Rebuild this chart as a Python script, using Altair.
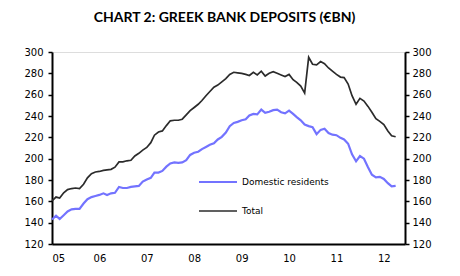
import altair as alt
import pandas as pd

# ---- data (monthly, Jan 2005 – Apr 2012), € bn ----
months = pd.date_range("2005-01-01", periods=88, freq="MS").strftime("%Y-%m-%d").tolist()

total = [
    160.5, 164, 163, 168, 171, 172, 172.5, 172, 176, 182, 186, 187.5,
    188, 189, 189.5, 190, 192, 197, 197, 198, 198.5, 202.5, 205, 208,
    210.5, 215, 222, 225, 226, 231, 235.5, 236, 236, 237, 241, 245,
    248, 251, 254.5, 259, 263, 267, 269, 272, 275, 279, 281, 280.5,
    280, 279, 278, 281, 278.5, 282, 277.5, 280, 281.5, 280, 278.5, 277,
    279, 274, 271.5, 268, 261.5, 295, 288.5, 288, 291, 289, 285, 282,
    279, 276.5, 276, 270, 259, 251, 256.5, 254, 249, 243.5, 237.5, 235,
    232, 226, 221.5, 220.5,
]

domestic = [
    143, 146.5, 143.5, 147, 150.5, 152.5, 153, 153, 158, 162, 164, 165,
    166, 167.5, 166, 167.5, 168, 173.5, 172.5, 172.5, 173.5, 174, 174.5, 178.5,
    180.5, 182, 187, 187, 188.5, 192.5, 195.5, 196.5, 196, 196.5, 198.5, 203.5,
    205.5, 206.5, 209, 211, 213, 214.5, 218, 220.5, 224.5, 230.5, 233.5, 234.5,
    236, 237, 240.5, 242, 241.5, 246, 243, 244, 245.5, 246, 243.5, 242.5,
    245, 242, 239, 236, 232, 230.5, 229.5, 223, 227, 228, 224, 222.5,
    222, 219.5, 218, 214, 204, 197.5, 202.5, 200, 192, 185, 182.5, 183,
    181, 177, 174, 174.5,
]

series_names = ["Domestic residents", "Total"]
series_colors = ["#7373ff", "#2b2b2b"]
y_ticks = [120, 140, 160, 180, 200, 220, 240, 260, 280, 300]
x_years = [2005, 2006, 2007, 2008, 2009, 2010, 2011, 2012]
title_text = "CHART 2: GREEK BANK DEPOSITS (€BN)"

df = pd.DataFrame({
    "date": months * 2,
    "value": domestic + total,
    "series": [series_names[0]] * len(domestic) + [series_names[1]] * len(total),
})

FONT = "DejaVu Sans"

x_scale = alt.Scale(
    type="utc",
    domain=[alt.DateTime(year=2005, month=1, date=1, utc=True),
            alt.DateTime(year=2012, month=6, date=12, utc=True)],
)
x_axis = alt.Axis(
    values=[alt.DateTime(year=y, month=1, date=1, utc=True) for y in x_years],
    format="%y", title=None, ticks=False, grid=False, labelPadding=9,
    domainWidth=2, domainColor="black", labelFont=FONT, labelFontSize=10,
    labelColor="black",
)
y_scale = alt.Scale(domain=[120, 300], nice=False, zero=False)


def y_axis(orient, pad):
    return alt.Axis(
        orient=orient, values=y_ticks, title=None, grid=False, tickSize=4,
        tickWidth=1.5, tickColor="black", domainWidth=2, domainColor="black",
        labelFont=FONT, labelFontSize=10, labelColor="black", labelPadding=pad,
    )


color = alt.Color("series:N", scale=alt.Scale(domain=series_names, range=series_colors), legend=None)
base = alt.Chart(df)

dom_line = base.transform_filter(alt.datum.series == series_names[0]).mark_line(strokeWidth=2.2).encode(
    x=alt.X("date:T", scale=x_scale, axis=x_axis),
    y=alt.Y("value:Q", scale=y_scale, axis=y_axis("left", 5)),
    color=color,
)
tot_line = base.transform_filter(alt.datum.series == series_names[1]).mark_line(strokeWidth=1.7).encode(
    x=alt.X("date:T", scale=x_scale, axis=x_axis),
    y=alt.Y("value:Q", scale=y_scale, axis=y_axis("right", 3)),
    color=color,
)

legend_layers = []
legend_y = [130, 159]
legend_df = pd.DataFrame({"series": series_names})
for name, ly in zip(series_names, legend_y):
    sub = alt.Chart(legend_df).transform_filter(alt.datum.series == name)
    legend_layers.append(
        sub.mark_rule(strokeWidth=2.2 if name == series_names[0] else 1.7).encode(
            x=alt.value(147), x2=alt.value(185), y=alt.value(ly), color=color)
    )
    legend_layers.append(
        sub.mark_text(align="left", baseline="middle", font=FONT, fontSize=9, color="black").encode(
            x=alt.value(190), y=alt.value(ly), text="series:N")
    )

chart = alt.layer(dom_line, tot_line, *legend_layers).resolve_axis(y="independent").properties(
    width=353,
    height=192,
    autosize=alt.AutoSizeParams(type="none"),
    padding={"left": 52, "top": 52, "right": 55, "bottom": 32},
    title=alt.TitleParams(
        text=title_text, font="Lato", fontSize=14, fontWeight="bold",
        color="black", anchor="middle", offset=22, dx=-4,
    ),
).configure_view(stroke=None).configure(background="white")

chart.save("out.html", embed_options={"renderer": "svg", "actions": False})
